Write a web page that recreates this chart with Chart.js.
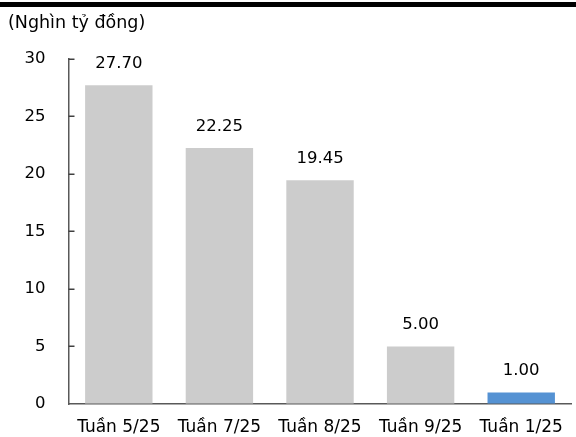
<!DOCTYPE html>
<html>
<head>
<meta charset="utf-8">
<script src="https://cdn.jsdelivr.net/npm/chart.js@4/dist/chart.umd.min.js"></script>
<style>
  html, body { margin: 0; padding: 0; background: #ffffff; }
  #wrap { width: 576px; height: 437px; position: relative; }
</style>
</head>
<body>
<div id="wrap"><canvas id="c" width="576" height="437"></canvas></div>
<script>
// Weekly values, thousand billion VND
const categories = ['Tuần 5/25', 'Tuần 7/25', 'Tuần 8/25', 'Tuần 9/25', 'Tuần 1/25'];
const values = [27.70, 22.25, 19.45, 5.00, 1.00];
const barColors = ['#cccccc', '#cccccc', '#cccccc', '#cccccc', '#5592d3'];
const unitLabel = '(Nghìn tỷ đồng)';
const yMin = 0, yMax = 30, yStep = 5;

const FONT = "'DejaVu Sans', sans-serif";

// Black rule across the top and the unit label under it
const headerPlugin = {
  id: 'header',
  afterDraw(chart) {
    const ctx = chart.ctx;
    ctx.save();
    ctx.fillStyle = '#000000';
    ctx.fillRect(0, 2, chart.width, 5);
    ctx.font = '17.5px ' + FONT;
    ctx.textAlign = 'left';
    ctx.textBaseline = 'middle';
    ctx.fillText(unitLabel, 8, 23);
    ctx.restore();
  }
};

// Short tick marks pointing into the plot from the value axis
const innerTicksPlugin = {
  id: 'innerTicks',
  afterDraw(chart) {
    const y = chart.scales.y;
    const ctx = chart.ctx;
    ctx.save();
    ctx.strokeStyle = '#404040';
    ctx.lineWidth = 1.5;
    y.ticks.forEach(t => {
      if (t.value === yMin) return;
      const py = Math.round(y.getPixelForValue(t.value)) + 0.25;
      ctx.beginPath();
      ctx.moveTo(y.right, py);
      ctx.lineTo(y.right + 6, py);
      ctx.stroke();
    });
    ctx.restore();
  }
};

// Value labels above each bar
const valueLabelsPlugin = {
  id: 'valueLabels',
  afterDatasetsDraw(chart) {
    const ctx = chart.ctx;
    const meta = chart.getDatasetMeta(0);
    ctx.save();
    ctx.font = '16.5px ' + FONT;
    ctx.fillStyle = '#000000';
    ctx.textAlign = 'center';
    ctx.textBaseline = 'middle';
    meta.data.forEach((bar, i) => {
      ctx.fillText(values[i].toFixed(2), bar.x, bar.y - 21.5);
    });
    ctx.restore();
  }
};

new Chart(document.getElementById('c'), {
  type: 'bar',
  data: {
    labels: categories,
    datasets: [{
      data: values,
      backgroundColor: barColors,
      borderWidth: 0,
      categoryPercentage: 1,
      barPercentage: 0.67
    }]
  },
  options: {
    responsive: false,
    animation: false,
    devicePixelRatio: 1,
    layout: { padding: { top: 58.7, right: 1, left: 0, bottom: 0 } },
    plugins: {
      legend: { display: false },
      tooltip: { enabled: false },
      title: { display: false }
    },
    scales: {
      x: {
        grid: { display: true, drawOnChartArea: false, drawTicks: false },
        border: { display: true, color: '#595959', width: 1.5 },
        ticks: { color: '#000000', font: { family: FONT, size: 17 }, padding: 13, maxRotation: 0, autoSkip: false },
        afterFit(scale) { scale.height = 33; }
      },
      y: {
        min: yMin,
        max: yMax,
        grid: { display: true, drawOnChartArea: false, drawTicks: false },
        border: { display: true, color: '#595959', width: 1.5 },
        ticks: { stepSize: yStep, color: '#000000', font: { family: FONT, size: 16.5 }, padding: 23 },
        afterFit(scale) { scale.width = 68.5; }
      }
    }
  },
  plugins: [headerPlugin, innerTicksPlugin, valueLabelsPlugin]
});
</script>
</body>
</html>
